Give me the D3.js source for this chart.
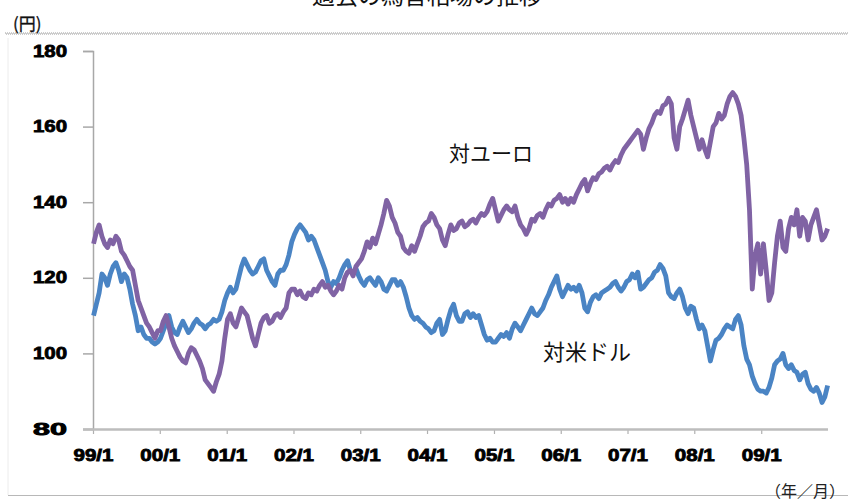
<!DOCTYPE html>
<html>
<head>
<meta charset="utf-8">
<script src="https://cdn.jsdelivr.net/npm/d3@7"></script>
<style>
  html, body { margin: 0; padding: 0; background: #fff; }
  svg { display: block; }
</style>
</head>
<body>
<div id="chart"></div>
<script>
// 円の対米ドル・対ユーロ相場（半月ごと、1999年1月〜2009年12月）
const startDate = new Date(1999, 0, 4);
const endDate = new Date(2009, 11, 30);

const usdJpy = [
  // 1999
  110, 113, 116, 121, 120, 118, 121, 123, 124, 122, 119, 121, 120, 117, 113, 110, 106, 107, 105, 104, 104, 103, 102.5, 103,
  // 2000
  104, 106, 108, 110, 107, 105.5, 105, 107, 108.5, 107, 105.5, 106.5, 108, 109, 108, 107.5, 106.5, 107.5, 108, 109, 108.5, 109, 111, 114,
  // 2001
  116, 117.5, 116, 117, 120, 123, 125, 123.5, 122, 121, 121.5, 123, 124.5, 125, 122, 120.5, 119, 118, 121, 122, 122, 123.5, 126, 129.5,
  // 2002
  131.5, 133, 134, 133, 132, 130, 131, 130, 128, 126, 124, 122, 119, 117.5, 119, 118.5, 120, 122, 123.5, 124.5, 122, 121, 122.5, 120.5,
  // 2003
  119, 118, 119.5, 120, 119, 118, 120, 119, 117, 116.5, 118, 119.5, 119.5, 118, 119, 117.5, 115, 112, 110, 109, 109.5, 108.5, 108, 107,
  // 2004
  106.5, 105.5, 106, 108, 109, 105, 106, 109, 111.5, 113, 110, 108.5, 108.5, 110.5, 111, 109.5, 110.5, 109.5, 110, 107.5, 105, 103.5, 104, 103,
  // 2005
  103, 104, 105, 104.5, 105.5, 104, 106.5, 108, 107, 106, 107.5, 109, 110.5, 112, 110.5, 110, 111, 112, 114, 115.5, 117.5, 119, 120.5, 117,
  // 2006
  115, 116.5, 118, 117, 117.5, 116.5, 118, 116, 112, 111, 113.5, 115, 115.5, 114.5, 116, 116.5, 117, 117.5, 118.5, 119, 117.5, 116.5, 117.5, 119,
  // 2007
  119.5, 121, 120, 121.5, 117, 117.5, 118.5, 119.5, 120, 121.5, 122, 123.5, 122.5, 120.5, 116, 115, 114.5, 116, 117, 115, 112, 110.5, 112.5, 112,
  // 2008
  109, 106.5, 107.5, 106, 102, 98, 101, 103.5, 104, 105, 106.5, 107.5, 107, 106.5, 109, 110, 107.5, 102, 98.5, 97, 94, 92, 90.5, 90,
  // 2009
  90, 89.5, 91, 93.5, 97, 98, 98.5, 100, 97, 96, 97, 95.5, 95, 93, 94.5, 95, 92, 90.5, 90, 91, 89.5, 87, 88.5, 91.5
];

const eurJpy = [
  // 1999
  129, 132, 134, 131, 129, 128, 130, 129, 131, 130, 127, 126, 124.5, 123, 122, 118, 114, 112, 110, 108, 107, 105.5, 104, 106,
  // 2000
  106, 108.5, 110, 107, 104, 102, 100.5, 99, 98, 97.5, 100, 101.5, 101, 99.5, 98, 96, 93, 92, 91, 90, 92.5, 94.5, 98, 104,
  // 2001
  109, 110.5, 108, 107, 109.5, 112, 111, 110, 107, 104, 102, 105, 108, 109.5, 110, 108, 108.5, 110, 110.5, 109.5, 111, 112, 116, 117,
  // 2002
  117, 115.5, 116.5, 115, 114.5, 116, 115.5, 117, 116.5, 118, 119, 117.5, 118, 116.5, 115.5, 116.5, 118, 117, 120, 121.5, 122, 120.5, 123, 124,
  // 2003
  125, 127, 129.5, 128, 130.5, 129, 131.5, 134, 137, 140.5, 139, 136, 134.5, 132, 131, 128, 127, 126.5, 128.5, 127, 129, 131, 133.5, 134.5,
  // 2004
  135, 137, 136, 134, 133, 130, 128.5, 131.5, 134, 132.5, 133, 134.5, 135, 133.5, 134, 135, 135.5, 134.5, 136, 137, 136.5, 137.5, 139.5, 141,
  // 2005
  138, 135, 136.5, 138, 139, 138, 137.5, 139, 136, 134, 133, 131.5, 133, 135.5, 135, 136.5, 137, 136, 138, 139.5, 139, 140.5, 141, 142,
  // 2006
  140, 141, 139.5, 141, 140, 142, 143.5, 145, 146, 143, 145, 146.5, 146, 147.5, 148, 149, 149.5, 148.5, 150, 151, 150.5, 152.5, 154, 155,
  // 2007
  156, 157, 158, 159, 158, 154, 157, 159.5, 161, 163, 164, 163.5, 165.5, 166, 167.5, 166, 157, 154, 160, 162, 164.5, 167, 163, 160,
  // 2008
  157, 154, 156.5, 154, 152, 156, 160, 161, 163.5, 162, 163, 166, 168, 169, 168, 166, 163, 157, 150, 138, 117, 126, 129, 121,
  // 2009
  129, 122, 114, 116, 124, 131, 135, 128, 127, 133, 136, 134, 138, 131, 136, 135, 130, 134, 136, 138, 134, 130, 131, 133
];

const yTicks = [80, 100, 120, 140, 160, 180];
const xTickLabels = ["99/1", "00/1", "01/1", "02/1", "03/1", "04/1", "05/1", "06/1", "07/1", "08/1", "09/1"];

const titleText = "過去の為替相場の推移";
const yUnit = "(円)";
const xUnit = "（年／月）";
const seriesNames = { eur: "対ユーロ", usd: "対米ドル" };

// 各データ点の日付（半月間隔）
const n = usdJpy.length;
const step = (endDate - startDate) / (n - 1);
const dates = d3.range(n).map(i => new Date(+startDate + i * step));

const W = 848, H = 503;
const svg = d3.select("#chart").append("svg")
  .attr("width", W).attr("height", H)
  .style("font-family", "'Liberation Sans', Arial, sans-serif");

const x = d3.scaleTime()
  .domain([new Date(1999, 0, 1), new Date(2010, 0, 1)])
  .range([93, 828]);
const y = d3.scaleLinear().domain([80, 180]).range([429, 51]);

// タイトル（上端で切れている）
svg.append("text")
  .attr("x", 427).attr("y", 4)
  .attr("text-anchor", "middle")
  .style("font-family", "'Noto Sans CJK JP', sans-serif")
  .style("font-size", "23px")
  .attr("fill", "#111")
  .text(titleText);

// 上部の点線
svg.append("line")
  .attr("x1", 5).attr("x2", W).attr("y1", 33).attr("y2", 33)
  .attr("stroke", "#9a9a9a").attr("stroke-width", 1)
  .attr("stroke-dasharray", "1,1");
svg.append("line")
  .attr("x1", 6).attr("x2", W).attr("y1", 34).attr("y2", 34)
  .attr("stroke", "#9a9a9a").attr("stroke-width", 1)
  .attr("stroke-dasharray", "1,1");

// 左端の薄い縦線と下端の線
svg.append("line")
  .attr("x1", 8).attr("x2", 8).attr("y1", 38).attr("y2", 495)
  .attr("stroke", "#ececec").attr("stroke-width", 1);
svg.append("line")
  .attr("x1", 8).attr("x2", W).attr("y1", 495.5).attr("y2", 495.5)
  .attr("stroke", "#b8b8b8").attr("stroke-width", 1);

// 単位
svg.append("text")
  .attr("x", 13).attr("y", 30)
  .style("font-family", "'Noto Sans CJK JP', sans-serif")
  .style("font-size", "17px")
  .attr("fill", "#111")
  .attr("stroke", "#111").attr("stroke-width", 0.3)
  .text(yUnit);
svg.append("text")
  .attr("x", 845).attr("y", 497)
  .attr("text-anchor", "end")
  .style("font-family", "'Noto Sans CJK JP', sans-serif")
  .style("font-size", "16px")
  .attr("fill", "#222")
  .text(xUnit);

// Y軸
const yAxis = svg.append("g")
  .attr("transform", "translate(93,0)")
  .call(d3.axisLeft(y).tickValues(yTicks).tickSize(10).tickPadding(16).tickFormat(d3.format("d")));
yAxis.select(".domain").attr("stroke", "#a8a8a8").attr("stroke-width", 1.5);
yAxis.selectAll(".tick line").attr("stroke", "#a8a8a8").attr("stroke-width", 1.5);
yAxis.selectAll(".tick text")
  .attr("fill", "#000")
  .attr("stroke", "#000").attr("stroke-width", 0.8)
  .style("font-size", "16px").style("font-weight", "bold")
  .attr("textLength", 34).attr("lengthAdjust", "spacingAndGlyphs");

// X軸
const xTickDates = xTickLabels.map((_, i) => new Date(1999 + i, 0, 1));
const xAxis = svg.append("g")
  .attr("transform", "translate(0,429)")
  .call(d3.axisBottom(x).tickValues(xTickDates).tickSize(5).tickPadding(16)
    .tickFormat((d, i) => xTickLabels[i]));
xAxis.select(".domain").remove();
svg.append("line")
  .attr("x1", 83).attr("x2", 828).attr("y1", 429.5).attr("y2", 429.5)
  .attr("stroke", "#bdbdbd").attr("stroke-width", 2.5);
xAxis.selectAll(".tick line").attr("stroke", "#b0b0b0").attr("stroke-width", 1.2);
xAxis.selectAll(".tick text")
  .attr("fill", "#000")
  .attr("stroke", "#000").attr("stroke-width", 0.8)
  .style("font-size", "16px").style("font-weight", "bold")
  .attr("textLength", 40).attr("lengthAdjust", "spacingAndGlyphs");

// 折れ線
const line = d3.line()
  .x((d, i) => x(dates[i]))
  .y(d => y(d));

svg.append("path")
  .datum(usdJpy)
  .attr("d", line)
  .attr("fill", "none")
  .attr("stroke", "#4a84c4")
  .attr("stroke-width", 4.8)
  .attr("stroke-linejoin", "round");

svg.append("path")
  .datum(eurJpy)
  .attr("d", line)
  .attr("fill", "none")
  .attr("stroke", "#8063a4")
  .attr("stroke-width", 4.8)
  .attr("stroke-linejoin", "round");

// 系列名
svg.append("text")
  .attr("x", 449).attr("y", 161)
  .style("font-family", "'Noto Sans CJK JP', sans-serif")
  .style("font-size", "21px")
  .attr("fill", "#111")
  .text(seriesNames.eur);
svg.append("text")
  .attr("x", 543).attr("y", 360)
  .style("font-family", "'Noto Sans CJK JP', sans-serif")
  .style("font-size", "22px")
  .attr("fill", "#111")
  .text(seriesNames.usd);
</script>
</body>
</html>
